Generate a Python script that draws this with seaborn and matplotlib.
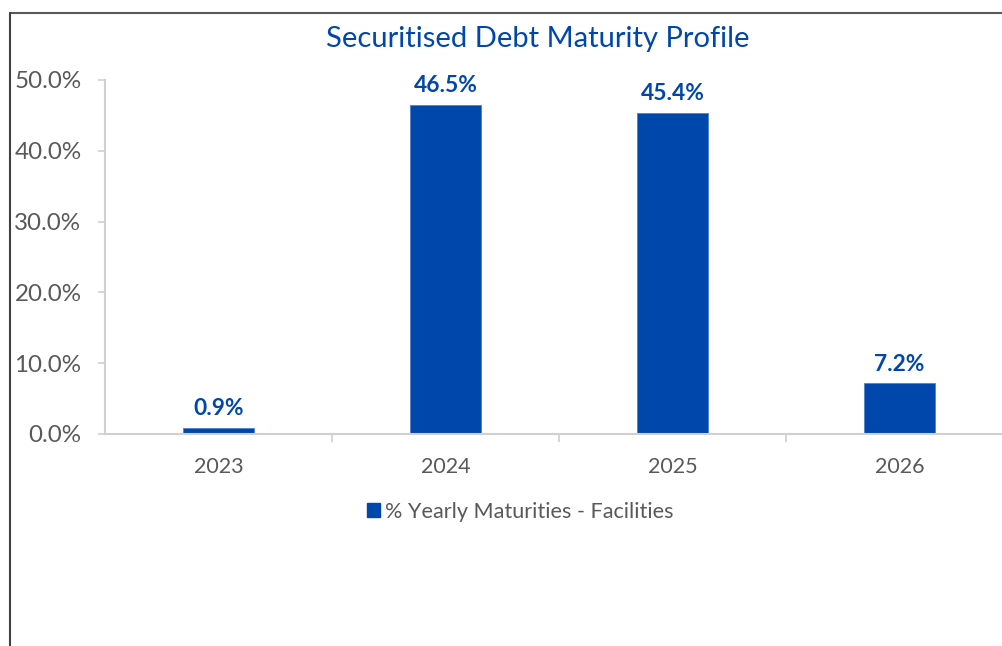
import matplotlib
matplotlib.use("Agg")
import matplotlib.pyplot as plt
import seaborn as sns
import pandas as pd
from matplotlib.lines import Line2D
from matplotlib.patches import Patch
from matplotlib.ticker import FuncFormatter

years = ["2023", "2024", "2025", "2026"]
values = [0.009, 0.465, 0.454, 0.072]
labels = ["0.9%", "46.5%", "45.4%", "7.2%"]
series_name = "% Yearly Maturities - Facilities"
title = "Securitised Debt Maturity Profile"

sns.set_style("white")
plt.rcParams['font.family'] = ['Lato', 'DejaVu Sans']

BLUE = "#0047AB"
GRAY = "#595959"
AXIS = "#D0D0D0"

df = pd.DataFrame({"year": years, "value": values})

fig = plt.figure(figsize=(10.03, 6.46), dpi=100)
ax = fig.add_axes([105/1003, 1-434/646, (1013-105)/1003, (434-80)/646])

sns.barplot(data=df, x="year", y="value", color=BLUE, width=0.31, ax=ax,
            saturation=1, edgecolor="#4F7FD0", linewidth=0.6)

ax.set_ylim(0, 0.5)
ax.set_xlim(-0.5, 3.5)
ax.set_yticks([0, 0.1, 0.2, 0.3, 0.4, 0.5])
ax.yaxis.set_major_formatter(FuncFormatter(lambda v, p: f"{v*100:.1f}%"))
ax.set_xlabel("")
ax.set_ylabel("")

for s in ["top", "right"]:
    ax.spines[s].set_visible(False)
for s in ["left", "bottom"]:
    ax.spines[s].set_color(AXIS)
    ax.spines[s].set_linewidth(1.5)

ax.tick_params(axis="y", which="major", left=True, length=5, width=1.2, color=AXIS,
               labelsize=17.4, labelcolor=GRAY, pad=12)
ax.set_xticks([0, 1, 2, 3])
ax.set_xticklabels(years)
ax.tick_params(axis="x", which="major", bottom=False, labelsize=15.5, labelcolor=GRAY, pad=13)
ax.set_xticks([0.5, 1.5, 2.5], minor=True)
ax.tick_params(axis="x", which="minor", bottom=True, length=6, width=1.2, color=AXIS)

for i, (v, t) in enumerate(zip(values, labels)):
    ax.annotate(t, (i, v), xytext=(0, 6), textcoords="offset points",
                ha="center", va="bottom", fontsize=16.4, fontweight="bold", color=BLUE)

fig.text(538/1003, 1-39/646, title, ha="center", va="center", fontsize=21, color=BLUE)

handles = [Patch(facecolor=BLUE, edgecolor=BLUE, label=series_name)]
fig.legend(handles=handles, loc="center", bbox_to_anchor=(520/1003, 1-512/646),
           frameon=False, fontsize=15.6, handlelength=0.6, handleheight=0.6,
           handletextpad=0.25, labelcolor=GRAY)

fig.add_artist(Line2D([10/1003, 1.0], [1-13/646, 1-13/646], color=GRAY, lw=1.5,
                      transform=fig.transFigure))
fig.add_artist(Line2D([10/1003, 10/1003], [0, 1-13/646], color="#404040", lw=1.5,
                      transform=fig.transFigure))

fig.savefig("out.png", dpi=100)
